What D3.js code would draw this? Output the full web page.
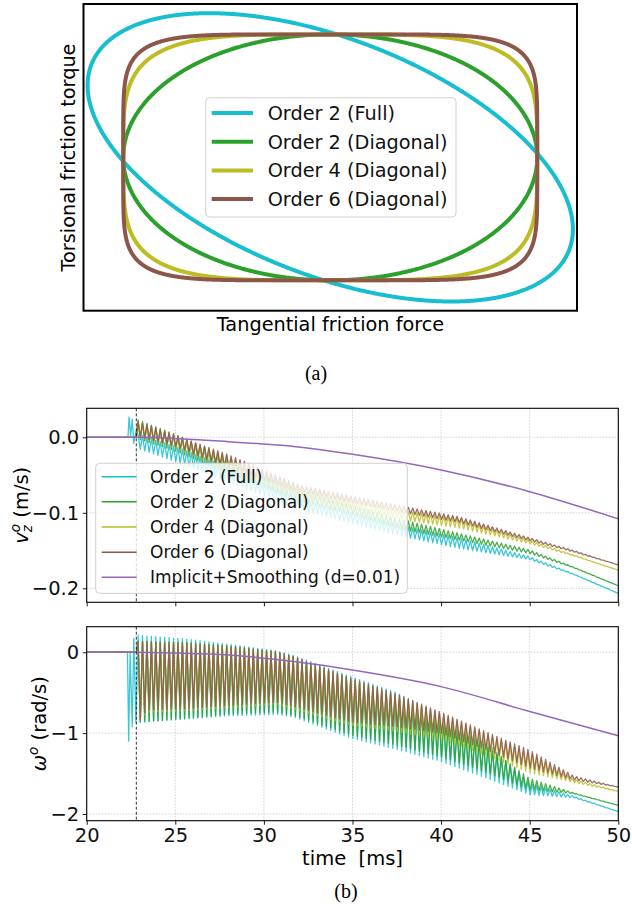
<!DOCTYPE html>
<html>
<head>
<meta charset="utf-8">
<script src="https://cdn.jsdelivr.net/npm/d3@7"></script>
<style>
  body { margin: 0; background: #fff; }
  svg { display: block; font-family: 'DejaVu Sans', sans-serif; }
</style>
</head>
<body>
<svg id="fig" width="632" height="907"></svg>
<script>
// ---------- panel (a): friction limit surfaces ----------
const shapeLabels = ['Order 2 (Full)', 'Order 2 (Diagonal)', 'Order 4 (Diagonal)', 'Order 6 (Diagonal)']
const shapeColors = ['#17becf', '#2ca02c', '#bcbd22', '#8c564b']
const shapeOrders = [2, 2, 4, 6]
const shapeSemiAxes = [[1.435, 0.83], [1, 1], [1, 1], [1, 1]]
const shapeAngles = [-45, 0, 0, 0] // degrees

// ---------- panel (b): time series ----------
const seriesLabels = ['Order 2 (Full)', 'Order 2 (Diagonal)', 'Order 4 (Diagonal)', 'Order 6 (Diagonal)', 'Implicit+Smoothing (d=0.01)']
const seriesColors = ['#17becf', '#2ca02c', '#bcbd22', '#8c564b', '#9467bd']
const xTicks = [20, 25, 30, 35, 40, 45, 50]
const contactTime = 22.8
const oscStart = 22.9 // first oscillation peak (ms)
const oscPeriod = 0.25 // ms, read from stripe spacing

// v_z: upper / lower envelope of the oscillations
const vzKnots = [22.9, 25, 28, 32, 35, 38, 41, 45, 47.5, 50]
const vzFullHi = [0.004, -0.012, -0.040, -0.081, -0.100, -0.118, -0.133, -0.158, -0.181, -0.2066]
const vzFullLo = [-0.015, -0.032, -0.059, -0.096, -0.114, -0.132, -0.147, -0.162, -0.182, -0.2066]
const vzDiag2Hi = [0.023, 0.004, -0.028, -0.070, -0.090, -0.110, -0.127, -0.149, -0.172, -0.1966]
const vzDiag2Lo = [-0.002, -0.018, -0.048, -0.085, -0.103, -0.123, -0.136, -0.154, -0.173, -0.1966]
const vzDiag4Hi = [0.021, 0.002, -0.025, -0.066, -0.082, -0.098, -0.107, -0.136, -0.156, -0.176]
const vzDiag4Lo = [0.000, -0.014, -0.044, -0.077, -0.094, -0.110, -0.120, -0.141, -0.157, -0.176]
const vzDiag6Hi = [0.021, 0.003, -0.023, -0.063, -0.078, -0.092, -0.105, -0.133, -0.150, -0.169]
const vzDiag6Lo = [0.001, -0.012, -0.041, -0.072, -0.087, -0.100, -0.113, -0.137, -0.152, -0.169]
const vzFullPre = [[20, 0], [22.33, 0], [22.39, 0.027], [22.48, 0.002], [22.57, 0.024], [22.66, -0.008], [22.78, 0.008]]
const vzDiagPre = [[20, 0], [22.8, 0]]

// omega: upper / lower envelope of the oscillations
const wKnots = [22.9, 23.4, 25.6, 28, 30.7, 31.7, 34.9, 37.5, 40, 42.5, 45, 47.5, 50]
const wFullHi = [0.213, 0.20, 0.164, 0.099, 0.016, -0.04, -0.30, -0.50, -0.78, -1.10, -1.62, -1.78, -1.97]
const wFullLo = [-0.87, -0.86, -0.825, -0.785, -0.77, -0.80, -1.06, -1.20, -1.35, -1.55, -1.76, -1.80, -1.97]
const wDiag2Hi = [0.14, 0.135, 0.12, 0.08, 0.01, -0.06, -0.34, -0.56, -0.85, -1.15, -1.56, -1.74, -1.894]
const wDiag2Lo = [-0.86, -0.855, -0.815, -0.766, -0.74, -0.78, -1.02, -1.15, -1.29, -1.48, -1.70, -1.75, -1.894]
const wDiag4Hi = [0.12, 0.115, 0.105, 0.06, -0.01, -0.065, -0.33, -0.54, -0.76, -1.00, -1.25, -1.57, -1.72]
const wDiag4Lo = [-0.87, -0.74, -0.72, -0.68, -0.64, -0.70, -0.90, -0.98, -1.08, -1.27, -1.49, -1.61, -1.72]
const wDiag6Hi = [0.13, 0.125, 0.111, 0.07, 0.0, -0.054, -0.32, -0.52, -0.74, -0.98, -1.21, -1.53, -1.667]
const wDiag6Lo = [-0.877, -0.71, -0.70, -0.66, -0.617, -0.67, -0.86, -0.92, -1.00, -1.20, -1.43, -1.58, -1.667]
const wFullPre = [[20, 0], [22.3, 0], [22.37, -1.1], [22.45, 0.0], [22.57, -0.92], [22.66, 0.17], [22.78, -0.87]]
const wDiagPre = [[20, 0], [22.8, 0]]

// smooth implicit solution
const implT = [20, 22.8, 25, 28, 31.8, 35, 40, 45, 50]
const vzImpl = [0, 0, -0.0015, -0.0058, -0.0125, -0.0226, -0.0433, -0.072, -0.108]
const wImpl = [0, 0, -0.01, -0.035, -0.118, -0.22, -0.425, -0.733, -1.033]

const svg = d3.select('#fig')

/**
 * Points of a (rotated) superellipse |u/a|^n + |v/b|^n = 1
 */
function shapePoints (i) {
  const n = shapeOrders[i]
  const [a, b] = shapeSemiAxes[i]
  const ang = shapeAngles[i] * Math.PI / 180
  return d3.range(0, 1440).map(k => {
    const t = k / 1440 * 2 * Math.PI
    const c = Math.cos(t)
    const s = Math.sin(t)
    const u = a * Math.sign(c) * Math.pow(Math.abs(c), 2 / n)
    const v = b * Math.sign(s) * Math.pow(Math.abs(s), 2 / n)
    return [u * Math.cos(ang) - v * Math.sin(ang), u * Math.sin(ang) + v * Math.cos(ang)]
  })
}

// panel (a)
const aBox = { left: 83.5, right: 577, top: 4, bottom: 310.7 }
const xA = d3.scaleLinear().domain([-1.192, 1.192]).range([aBox.left, aBox.right])
const yA = d3.scaleLinear().domain([-1.247, 1.247]).range([aBox.bottom, aBox.top])
const gA = svg.append('g')
const lineA = d3.line().x(d => xA(d[0])).y(d => yA(d[1]))

shapeOrders.forEach((n, i) => {
  gA.append('path')
    .attr('d', lineA(shapePoints(i)) + 'Z')
    .attr('fill', 'none')
    .attr('stroke', shapeColors[i])
    .attr('stroke-width', 4)
})

gA.append('rect')
  .attr('x', aBox.left).attr('y', aBox.top)
  .attr('width', aBox.right - aBox.left).attr('height', aBox.bottom - aBox.top)
  .attr('fill', 'none').attr('stroke', '#000').attr('stroke-width', 2)

/**
 * Matplotlib-like legend box
 */
function drawLegend (g, box, labels, colors, opts) {
  g.append('rect')
    .attr('x', box.x).attr('y', box.y).attr('width', box.w).attr('height', box.h)
    .attr('rx', 4)
    .attr('fill', '#fff').attr('fill-opacity', 0.8)
    .attr('stroke', '#d0d0d0').attr('stroke-width', 1)
  labels.forEach((label, i) => {
    const cy = opts.firstRow + i * opts.rowStep
    g.append('line')
      .attr('x1', opts.lineX1).attr('x2', opts.lineX2)
      .attr('y1', cy).attr('y2', cy)
      .attr('stroke', colors[i]).attr('stroke-width', opts.lineWidth)
    g.append('text')
      .attr('x', opts.textX).attr('y', cy + opts.fontSize * 0.36)
      .style('font-size', opts.fontSize + 'px')
      .attr('fill', '#111')
      .text(label)
  })
}

drawLegend(gA, { x: 205.7, y: 97.7, w: 250.3, h: 119.3 }, shapeLabels, shapeColors, {
  firstRow: 113, rowStep: 28.7, lineX1: 211.7, lineX2: 253, lineWidth: 4, textX: 267.7, fontSize: 19.3
})

svg.append('text')
  .attr('transform', 'translate(75,157.5) rotate(-90)')
  .attr('text-anchor', 'middle')
  .style('font-size', '19.3px')
  .text('Torsional friction torque')

svg.append('text')
  .attr('x', 330.5).attr('y', 331)
  .attr('text-anchor', 'middle')
  .style('font-size', '19.3px')
  .text('Tangential friction force')

svg.append('text')
  .attr('x', 316).attr('y', 380)
  .attr('text-anchor', 'middle')
  .style('font-family', "'Liberation Serif', serif")
  .style('font-size', '20px')
  .text('(a)')

// panel (b)
const bLeft = 86.7
const bRight = 618.3
const xB = d3.scaleLinear().domain([20, 50]).range([bLeft, bRight])

/**
 * Builds the zig-zag trace that runs between the read upper and lower envelopes
 */
function buildSeries (pre, knots, hi, lo) {
  const hiS = d3.scaleLinear().domain(knots).range(hi).clamp(true)
  const loS = d3.scaleLinear().domain(knots).range(lo).clamp(true)
  const pts = pre.slice()
  for (let k = 0; ; k++) {
    const t = oscStart + k * oscPeriod / 2
    if (t > 50) break
    pts.push([t, k % 2 === 0 ? hiS(t) : loS(t)])
  }
  pts.push([50, (hiS(50) + loS(50)) / 2])
  return pts
}

const panels = [
  {
    top: 408.3, bottom: 602.3, domain: [-0.2185, 0.0384], ticks: [-0.2, -0.1, 0], fmt: d3.format('.1f'),
    series: [
      buildSeries(vzFullPre, vzKnots, vzFullHi, vzFullLo),
      buildSeries(vzDiagPre, vzKnots, vzDiag2Hi, vzDiag2Lo),
      buildSeries(vzDiagPre, vzKnots, vzDiag4Hi, vzDiag4Lo),
      buildSeries(vzDiagPre, vzKnots, vzDiag6Hi, vzDiag6Lo)
    ],
    impl: vzImpl
  },
  {
    top: 626.7, bottom: 820.7, domain: [-2.083, 0.316], ticks: [-2, -1, 0], fmt: d3.format('d'),
    series: [
      buildSeries(wFullPre, wKnots, wFullHi, wFullLo),
      buildSeries(wDiagPre, wKnots, wDiag2Hi, wDiag2Lo),
      buildSeries(wDiagPre, wKnots, wDiag4Hi, wDiag4Lo),
      buildSeries(wDiagPre, wKnots, wDiag6Hi, wDiag6Lo)
    ],
    impl: wImpl
  }
]

panels.forEach((p, pi) => {
  const y = d3.scaleLinear().domain(p.domain).range([p.bottom, p.top])
  const g = svg.append('g')

  g.append('clipPath').attr('id', 'clip' + pi)
    .append('rect')
    .attr('x', bLeft).attr('y', p.top).attr('width', bRight - bLeft).attr('height', p.bottom - p.top)

  // grid
  g.append('g').selectAll('line').data(xTicks).join('line')
    .attr('x1', d => xB(d)).attr('x2', d => xB(d))
    .attr('y1', p.top).attr('y2', p.bottom)
    .attr('stroke', '#c8c8c8').attr('stroke-width', 0.8).attr('stroke-dasharray', '1.5,1.5')
  g.append('g').selectAll('line').data(p.ticks).join('line')
    .attr('x1', bLeft).attr('x2', bRight)
    .attr('y1', d => y(d)).attr('y2', d => y(d))
    .attr('stroke', '#c8c8c8').attr('stroke-width', 0.8).attr('stroke-dasharray', '1.5,1.5')

  const plot = g.append('g').attr('clip-path', `url(#clip${pi})`)
  const line = d3.line().x(d => xB(d[0])).y(d => y(d[1]))

  p.series.forEach((pts, i) => {
    plot.append('path')
      .attr('d', line(pts))
      .attr('fill', 'none')
      .attr('stroke', seriesColors[i])
      .attr('stroke-width', 1.3)
      .attr('stroke-opacity', 0.85)
      .attr('stroke-linejoin', 'round')
  })

  plot.append('path')
    .attr('d', d3.line().curve(d3.curveMonotoneX).x((d, i) => xB(implT[i])).y(d => y(d))(p.impl))
    .attr('fill', 'none')
    .attr('stroke', seriesColors[4])
    .attr('stroke-width', 1.5)

  // contact instant
  plot.append('line')
    .attr('x1', xB(contactTime)).attr('x2', xB(contactTime))
    .attr('y1', p.top).attr('y2', p.bottom)
    .attr('stroke', '#000').attr('stroke-width', 0.8).attr('stroke-dasharray', '3,2')

  // axes
  const yAxis = g.append('g')
    .attr('transform', `translate(${bLeft},0)`)
    .call(d3.axisLeft(y).tickValues(p.ticks).tickFormat(p.fmt).tickSize(4).tickPadding(3.5))
  const xAxis = g.append('g')
    .attr('transform', `translate(0,${p.bottom})`)
    .call(d3.axisBottom(xB).tickValues(xTicks).tickSize(4).tickPadding(3))
  if (pi === 0) xAxis.selectAll('.tick text').remove()
  ;[xAxis, yAxis].forEach(ax => {
    ax.select('.domain').remove()
    ax.selectAll('.tick line').attr('stroke', '#000').attr('stroke-width', 0.9)
    ax.selectAll('.tick text')
      .attr('fill', '#111')
      .style('font-family', "'DejaVu Sans', sans-serif")
      .style('font-size', '19.5px')
  })

  g.append('rect')
    .attr('x', bLeft).attr('y', p.top).attr('width', bRight - bLeft).attr('height', p.bottom - p.top)
    .attr('fill', 'none').attr('stroke', '#000').attr('stroke-width', 1.1)

  if (pi === 0) {
    drawLegend(g, { x: 95.7, y: 463.3, w: 311.6, h: 130 }, seriesLabels, seriesColors, {
      firstRow: 476.7, rowStep: 25.15, lineX1: 101.7, lineX2: 136.7, lineWidth: 1.5, textX: 150, fontSize: 17
    })
  }
})

// y labels of panel (b)
const yl1 = svg.append('text')
  .attr('transform', 'translate(28,505.3) rotate(-90)')
  .attr('text-anchor', 'middle')
  .style('font-size', '19.5px')
yl1.append('tspan').attr('font-style', 'italic').text('v')
yl1.append('tspan').attr('font-style', 'italic').style('font-size', '13.5px').attr('dy', 4).text('z')
yl1.append('tspan').attr('font-style', 'italic').style('font-size', '13.5px').attr('dx', -7).attr('dy', -12).text('o')
yl1.append('tspan').attr('dy', 8).text(' (m/s)')

const yl2 = svg.append('text')
  .attr('transform', 'translate(46,723.7) rotate(-90)')
  .attr('text-anchor', 'middle')
  .style('font-size', '19.5px')
yl2.append('tspan').attr('font-style', 'italic').text('ω')
yl2.append('tspan').attr('font-style', 'italic').style('font-size', '13.5px').attr('dy', -8).text('o')
yl2.append('tspan').attr('dy', 8).text(' (rad/s)')

svg.append('text')
  .attr('x', 352.5).attr('y', 865)
  .attr('text-anchor', 'middle')
  .style('font-size', '19.5px')
  .style('white-space', 'pre')
  .text('time  [ms]')

svg.append('text')
  .attr('x', 346).attr('y', 898)
  .attr('text-anchor', 'middle')
  .style('font-family', "'Liberation Serif', serif")
  .style('font-size', '20px')
  .text('(b)')
</script>
</body>
</html>
